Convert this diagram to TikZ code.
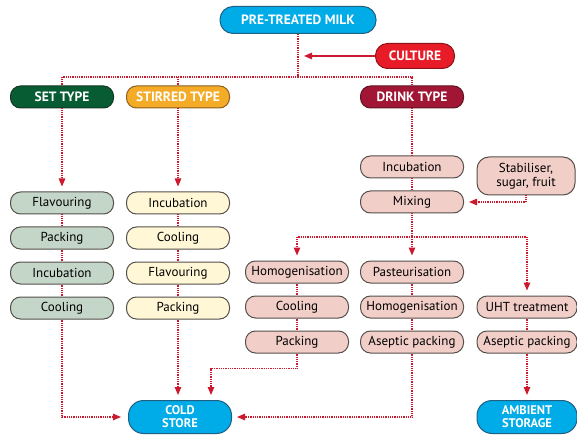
\documentclass[tikz,border=0pt]{standalone}
\usepackage{fontspec}
\setmainfont{PT Sans}
\usepackage{tikz}
\usetikzlibrary{positioning, arrows.meta, calc}

\definecolor{milkblue}{RGB}{0,172,232}
\definecolor{milkedge}{RGB}{30,95,130}
\definecolor{cultred}{RGB}{232,28,40}
\definecolor{cultedge}{RGB}{140,20,25}
\definecolor{setgreen}{RGB}{8,92,52}
\definecolor{setedge}{RGB}{20,55,35}
\definecolor{stiramber}{RGB}{244,172,40}
\definecolor{stiredge}{RGB}{140,95,30}
\definecolor{drinkred}{RGB}{160,22,52}
\definecolor{drinkedge}{RGB}{95,20,35}
\definecolor{setfill}{RGB}{196,214,200}
\definecolor{stirfill}{RGB}{255,247,214}
\definecolor{drinkfill}{RGB}{242,206,200}
\definecolor{boxedge}{RGB}{85,80,75}
\definecolor{flowred}{RGB}{205,25,45}

\begin{document}
\begin{tikzpicture}[
    x=1pt, y=-1pt,
    node distance=12pt,
    layer/.style={draw=boxedge, rounded corners=10pt, minimum height=22pt,
                  minimum width=103pt, inner sep=2pt, line width=1pt,
                  align=center, font=\fontsize{13}{14}\selectfont},
    head/.style={layer, text=white, font=\fontsize{13.5}{14}\selectfont\bfseries},
    milkbox/.style={head, fill=milkblue, draw=milkedge, minimum width=156pt,
                    minimum height=27pt, rounded corners=13pt},
    store/.style={head, fill=milkblue, draw=milkedge, minimum width=103pt,
                  minimum height=33pt, rounded corners=15pt,
                  font=\fontsize{12.5}{13}\selectfont\bfseries},
    cult/.style={head, fill=cultred, draw=cultedge, minimum width=79pt,
                 minimum height=25pt, rounded corners=12pt},
    settype/.style={head, fill=setgreen, draw=setedge},
    stirtype/.style={head, fill=stiramber, draw=stiredge},
    drinktype/.style={head, fill=drinkred, draw=drinkedge},
    setbox/.style={layer, fill=setfill},
    stirbox/.style={layer, fill=stirfill},
    drinkbox/.style={layer, fill=drinkfill},
    flow/.style={flowred, line width=1.2pt, dash pattern=on 1pt off 0.8pt},
    arr/.style={flow, -{Triangle[length=8pt, width=6.5pt]}, shorten >=5pt},
    solidarr/.style={flowred, line width=1.3pt, -{Triangle[length=8pt, width=6.5pt]}},
]
\useasboundingbox (0,0) rectangle (577,435);

% top
\node[milkbox] (milk) at (298,20) {PRE-TREATED MILK};
\node[cult] (culture) at (415,56) {CULTURE};
\coordinate (split) at (298,77);

\node[settype] (set) at (62,97) {SET TYPE};
\node[stirtype] (stir) at (178,97) {STIRRED TYPE};
\node[drinktype] (drink) at (412,97) {DRINK TYPE};

% set type
\node[setbox] (sflav) at (62,203) {Flavouring};
\node[setbox, below=of sflav] (spack) {Packing};
\node[setbox, below=of spack] (sinc) {Incubation};
\node[setbox, below=of sinc] (scool) {Cooling};

% stirred type
\node[stirbox] (tinc) at (178,203) {Incubation};
\node[stirbox, below=of tinc] (tcool) {Cooling};
\node[stirbox, below=of tcool] (tflav) {Flavouring};
\node[stirbox, below=of tflav] (tpack) {Packing};

% drink type
\node[drinkbox] (dinc) at (412,167) {Incubation};
\node[drinkbox, below=of dinc] (dmix) {Mixing};
\node[drinkbox, minimum width=98pt, minimum height=38pt, rounded corners=12pt]
    (stab) at (526,176) {Stabiliser,\\sugar, fruit};
\coordinate (branch) at (412,237);

\node[drinkbox] (chom) at (297,272) {Homogenisation};
\node[drinkbox, below=of chom] (ccool) {Cooling};
\node[drinkbox, below=of ccool] (cpack) {Packing};

\node[drinkbox] (past) at (412,272) {Pasteurisation};
\node[drinkbox, below=of past] (dhom) {Homogenisation};
\node[drinkbox, below=of dhom] (dasep) {Aseptic packing};

\node[drinkbox, minimum width=100pt] (uht) at (527,307) {UHT treatment};
\node[drinkbox, minimum width=100pt, below=of uht] (uasep) {Aseptic packing};

% stores
\node[store] (cold) at (180,417) {COLD\\STORE};
\node[store, minimum width=100pt] (amb) at (527,417) {AMBIENT\\STORAGE};

% Arrows
\draw[flow] (milk) -- (split);
\draw[solidarr, shorten >=6pt] (culture) -- (culture -| split);
\draw[flow] (set.north) |- (split) -| (drink.north);
\draw[flow] (stir.north) -- (stir.north |- split);

\draw[arr] (set) -- (sflav);
\draw[flow] (sflav) -- (spack);
\draw[flow] (spack) -- (sinc);
\draw[flow] (sinc) -- (scool);

\draw[arr] (stir) -- (tinc);
\draw[flow] (tinc) -- (tcool);
\draw[flow] (tcool) -- (tflav);
\draw[flow] (tflav) -- (tpack);

\draw[flow] (drink) -- (dinc);
\draw[flow] (dinc) -- (dmix);
\draw[arr] (stab.south) |- (dmix.east);
\draw[flow] (dmix) -- (branch);
\draw[arr] (branch) -| (chom.north);
\draw[arr] (branch) -- (past.north);
\draw[arr] (branch) -| (uht.north);

\draw[flow] (chom) -- (ccool);
\draw[flow] (ccool) -- (cpack);
\draw[flow] (past) -- (dhom);
\draw[flow] (dhom) -- (dasep);
\draw[flow] (uht) -- (uasep);

\draw[arr, shorten >=7pt] (scool.south) |- (cold.west);
\draw[arr] (tpack) -- (tpack |- cold.north);
\draw[arr] (cpack.south) -- ++(0,15) -| ([xshift=31pt]cold.north);
\draw[arr] (dasep.south) |- (cold.east);
\draw[arr] (uasep) -- (amb);

\end{tikzpicture}
\end{document}
